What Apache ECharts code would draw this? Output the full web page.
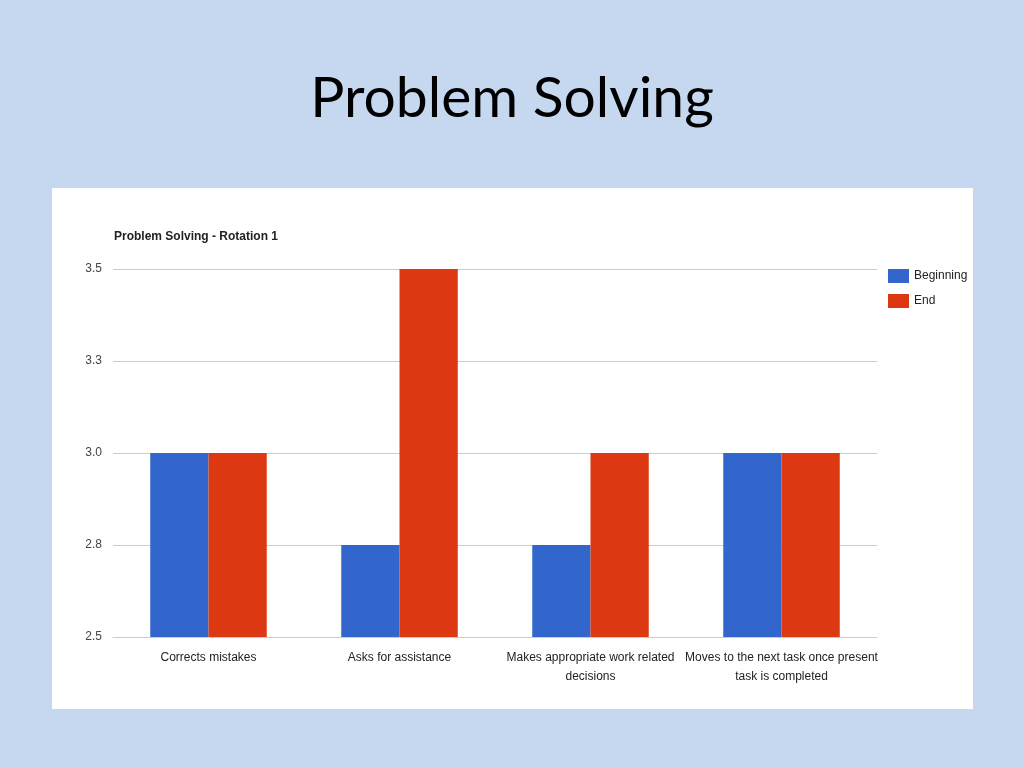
<!DOCTYPE html>
<html>
<head>
<meta charset="utf-8">
<script src="https://cdn.jsdelivr.net/npm/echarts@6/dist/echarts.min.js"></script>
<style>
  html, body { margin: 0; padding: 0; background: #c5d8ef; }
  #chart { width: 1024px; height: 768px; }
</style>
</head>
<body>
<div id="chart"></div>
<script>
const categories = [
  "Corrects mistakes",
  "Asks for assistance",
  "Makes appropriate work related\ndecisions",
  "Moves to the next task once present\ntask is completed"
];
const beginning = [3.0, 2.75, 2.75, 3.0];
const end = [3.0, 3.5, 3.0, 3.0];

const sans = "'Liberation Sans', Arial, sans-serif";

const chart = echarts.init(document.getElementById("chart"));
chart.setOption({
  backgroundColor: "#c5d8ef",
  animation: false,
  graphic: [
    {
      type: "rect",
      shape: { x: 52, y: 188, width: 921, height: 521 },
      style: { fill: "#ffffff" },
      z: -10
    }
  ],
  title: [
    {
      text: "Problem Solving",
      left: "center",
      top: 65,
      textStyle: {
        fontFamily: "Lato, 'Open Sans', sans-serif",
        fontSize: 57,
        fontWeight: "normal",
        color: "#000000"
      }
    },
    {
      text: "Problem Solving - Rotation 1",
      left: 109,
      top: 226,
      textStyle: {
        fontFamily: sans,
        fontSize: 12,
        fontWeight: "bold",
        color: "#222222"
      }
    }
  ],
  legend: {
    orient: "vertical",
    left: 883,
    top: 264,
    itemWidth: 21,
    itemHeight: 14,
    itemGap: 11,
    icon: "rect",
    textStyle: { fontFamily: sans, fontSize: 12, color: "#222222" },
    data: ["Beginning", "End"]
  },
  grid: {
    left: 113,
    right: 147,
    top: 269,
    bottom: 131,
    containLabel: false
  },
  xAxis: {
    type: "category",
    data: categories,
    axisTick: { show: false },
    axisLine: { show: true, lineStyle: { color: "#cccccc" } },
    axisLabel: {
      interval: 0,
      margin: 11,
      fontFamily: sans,
      fontSize: 12,
      color: "#222222",
      lineHeight: 19
    }
  },
  yAxis: {
    type: "value",
    min: 2.5,
    max: 3.5,
    interval: 0.25,
    axisLine: { show: false },
    axisTick: { show: false },
    axisLabel: {
      margin: 11,
      fontFamily: sans,
      fontSize: 12,
      color: "#444444",
      formatter: v => v.toFixed(1)
    },
    splitLine: { lineStyle: { color: "#cccccc" } }
  },
  series: [
    {
      name: "Beginning",
      type: "bar",
      data: beginning,
      barWidth: "30.5%",
      barGap: "0%",
      itemStyle: { color: "#3366cc" }
    },
    {
      name: "End",
      type: "bar",
      data: end,
      barWidth: "30.5%",
      itemStyle: { color: "#dc3912" }
    }
  ]
});
</script>
</body>
</html>
